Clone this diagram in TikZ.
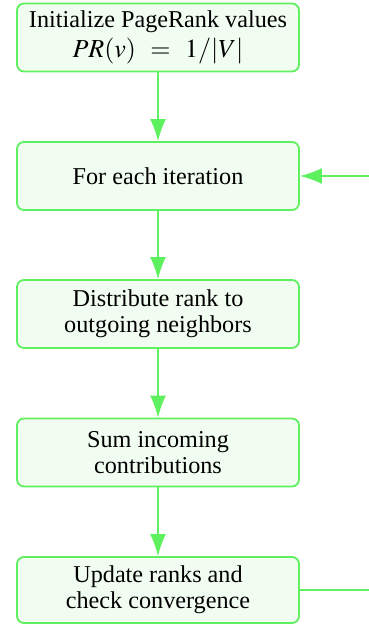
\documentclass[tikz,border=0pt]{standalone}
\usepackage{mathptmx}
\usepackage{fontspec}
\setmainfont{Liberation Serif}
\usetikzlibrary{arrows.meta}
\definecolor{lgreen}{RGB}{95,240,95}
\definecolor{fgreen}{RGB}{242,253,242}
\newcommand{\boxfont}{\fontsize{12.1}{13.2}\selectfont}
\newcommand{\mathline}{{\fontsize{13}{14}\selectfont$PR(v)\;\,=\;\,1/|V|$}}
\tikzset{
  stepbox/.style={draw=lgreen, fill=fgreen, line width=0.9pt, rounded corners=3.5pt,
    minimum width=141pt, minimum height=34pt, align=center, inner sep=2pt,
    font=\boxfont},
  arr/.style={draw=lgreen, line width=0.8pt, -{Latex[length=11pt,width=8pt]}},
}
\begin{document}
\begin{tikzpicture}[x=0.5pt,y=-0.5pt]
\useasboundingbox (0,0) rectangle (368,624);
\node[stepbox] (n1) at (158,37.5) {Initialize PageRank values\\[1.5pt]\mathline};
\node[stepbox] (n2) at (158,176) {For each iteration};
\node[stepbox] (n3) at (158,314) {Distribute rank to\\outgoing neighbors};
\node[stepbox] (n4) at (158,452.5) {Sum incoming\\contributions};
\node[stepbox, minimum height=33pt] (n5) at (158,590) {Update ranks and\\check convergence};
\draw[arr] (n1) -- (n2);
\draw[arr] (n2) -- (n3);
\draw[arr] (n3) -- (n4);
\draw[arr] (n4) -- (n5);
\draw[arr] (n5.east) -- ++(90,0) |- (n2.east);
\end{tikzpicture}
\end{document}
